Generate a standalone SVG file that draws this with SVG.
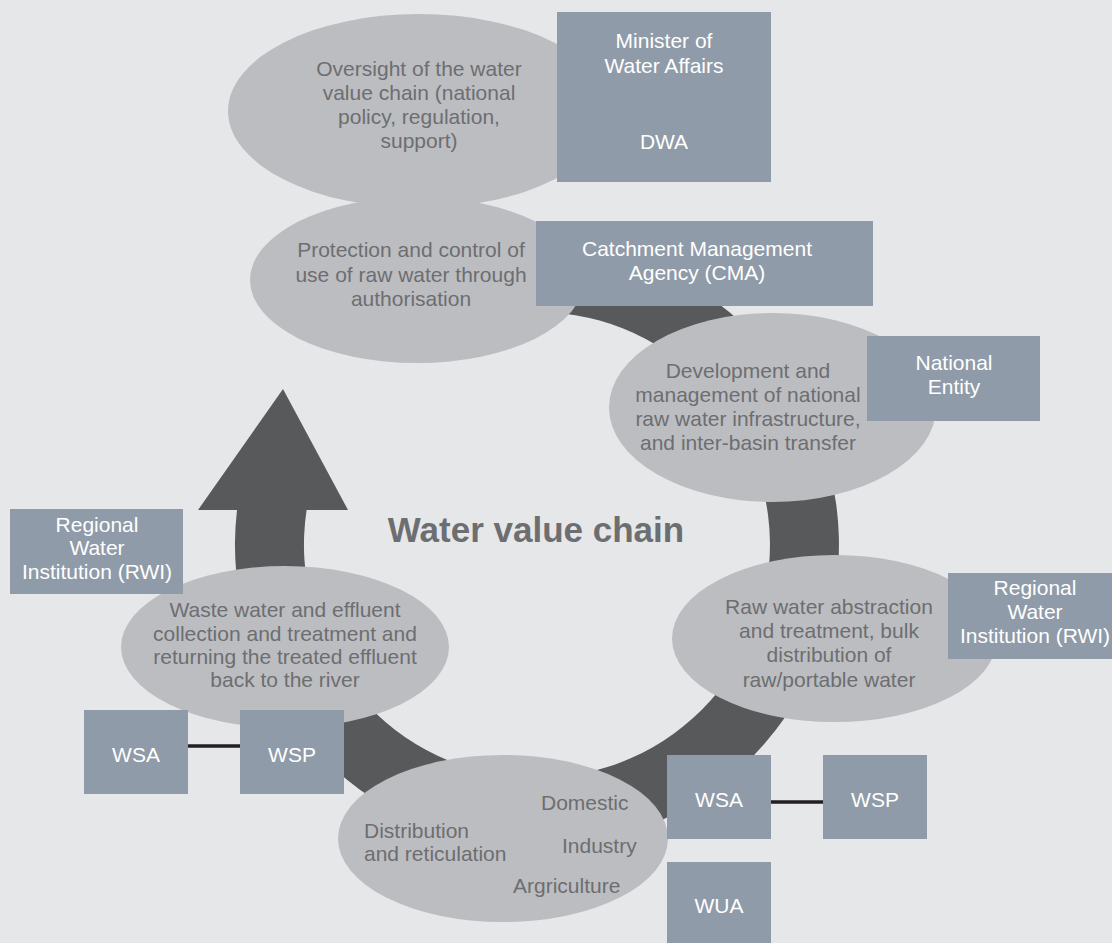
<svg xmlns="http://www.w3.org/2000/svg" width="1112" height="943" viewBox="0 0 1112 943">
<style>
.bg{fill:#e6e7e8}
.ell{fill:#bcbdc0}
.box{fill:#8f9ba8}
.et{font-family:"Liberation Sans",Arial,sans-serif;font-size:21px;fill:#6d6e71}
.bt{font-family:"Liberation Sans",Arial,sans-serif;font-size:21px;fill:#ffffff;text-anchor:middle}
.c{text-anchor:middle}
.ring{fill:#58595b}
.link{stroke:#231f20;stroke-width:3.5;fill:none}
.title{font-family:"Liberation Sans",Arial,sans-serif;font-size:35px;font-weight:bold;fill:#6d6e71;text-anchor:middle}
</style>
<rect class="bg" x="0" y="0" width="1112" height="943"/>
<g id="connectors">
<path id="cycle" class="ring" d="M458.84,253.29 A302,302 0 1 1 237,510 L198,510 L283,389 L348,510 L306.6,510 A233,233 0 1 0 476.69,319.94 Z"/>
<line class="link" x1="188" y1="746" x2="240" y2="746"/>
<line class="link" x1="771" y1="802" x2="823" y2="802"/>
</g>
<text class="title" x="536" y="542">Water value chain</text>
<g id="oversight">
<ellipse class="ell" cx="419" cy="111" rx="191" ry="97"/>
<text class="et c" x="419" y="76">Oversight of the water</text>
<text class="et c" x="419" y="100">value chain (national</text>
<text class="et c" x="419" y="124">policy, regulation,</text>
<text class="et c" x="419" y="148">support)</text>
</g>
<g id="protection">
<ellipse class="ell" cx="417" cy="280" rx="167" ry="83"/>
<text class="et c" x="411" y="257">Protection and control of</text>
<text class="et c" x="411" y="282">use of raw water through</text>
<text class="et c" x="411" y="306">authorisation</text>
</g>
<g id="development">
<ellipse class="ell" cx="772.5" cy="407.5" rx="163.5" ry="94.5"/>
<text class="et c" x="748" y="378">Development and</text>
<text class="et c" x="748" y="402">management of national</text>
<text class="et c" x="748" y="426">raw water infrastructure,</text>
<text class="et c" x="748" y="450">and inter-basin transfer</text>
</g>
<g id="rawwater">
<ellipse class="ell" cx="834.5" cy="638.5" rx="162.5" ry="83.5"/>
<text class="et c" x="829" y="614">Raw water abstraction</text>
<text class="et c" x="829" y="638">and treatment, bulk</text>
<text class="et c" x="829" y="662">distribution of</text>
<text class="et c" x="829" y="687">raw/portable water</text>
</g>
<g id="distribution">
<ellipse class="ell" cx="503" cy="838.5" rx="165" ry="83.5"/>
<text class="et" x="364" y="838">Distribution</text>
<text class="et" x="364" y="861">and reticulation</text>
<text class="et" x="541" y="810">Domestic</text>
<text class="et" x="562" y="853">Industry</text>
<text class="et" x="513" y="893">Argriculture</text>
</g>
<g id="waste">
<ellipse class="ell" cx="285" cy="647" rx="164" ry="81"/>
<text class="et c" x="285" y="617">Waste water and effluent</text>
<text class="et c" x="285" y="641">collection and treatment and</text>
<text class="et c" x="285" y="664">returning the treated effluent</text>
<text class="et c" x="285" y="687">back to the river</text>
</g>
<g id="minister">
<rect class="box" x="557" y="12" width="214" height="170"/>
<text class="bt" x="664" y="48">Minister of</text>
<text class="bt" x="664" y="73">Water Affairs</text>
<text class="bt" x="664" y="149">DWA</text>
</g>
<g id="cma">
<rect class="box" x="536" y="221" width="337" height="85"/>
<text class="bt" x="697" y="256">Catchment Management</text>
<text class="bt" x="697" y="280">Agency (CMA)</text>
</g>
<g id="national-entity">
<rect class="box" x="867" y="336" width="173" height="85"/>
<text class="bt" x="954" y="370">National</text>
<text class="bt" x="954" y="394">Entity</text>
</g>
<g id="rwi-right">
<rect class="box" x="948" y="573" width="170" height="86"/>
<text class="bt" x="1035" y="595">Regional</text>
<text class="bt" x="1035" y="619">Water</text>
<text class="bt" x="1035" y="643">Institution (RWI)</text>
</g>
<g id="rwi-left">
<rect class="box" x="10" y="509" width="173" height="85"/>
<text class="bt" x="97" y="532">Regional</text>
<text class="bt" x="97" y="555">Water</text>
<text class="bt" x="97" y="579">Institution (RWI)</text>
</g>
<g id="wsa-left">
<rect class="box" x="84" y="710" width="104" height="84"/>
<text class="bt" x="136" y="762">WSA</text>
</g>
<g id="wsp-left">
<rect class="box" x="240" y="710" width="104" height="84"/>
<text class="bt" x="292" y="762">WSP</text>
</g>
<g id="wsa-right">
<rect class="box" x="667" y="755" width="104" height="84"/>
<text class="bt" x="719" y="807">WSA</text>
</g>
<g id="wsp-right">
<rect class="box" x="823" y="755" width="104" height="84"/>
<text class="bt" x="875" y="807">WSP</text>
</g>
<g id="wua">
<rect class="box" x="667" y="862" width="104" height="90"/>
<text class="bt" x="719" y="913">WUA</text>
</g>
</svg>
